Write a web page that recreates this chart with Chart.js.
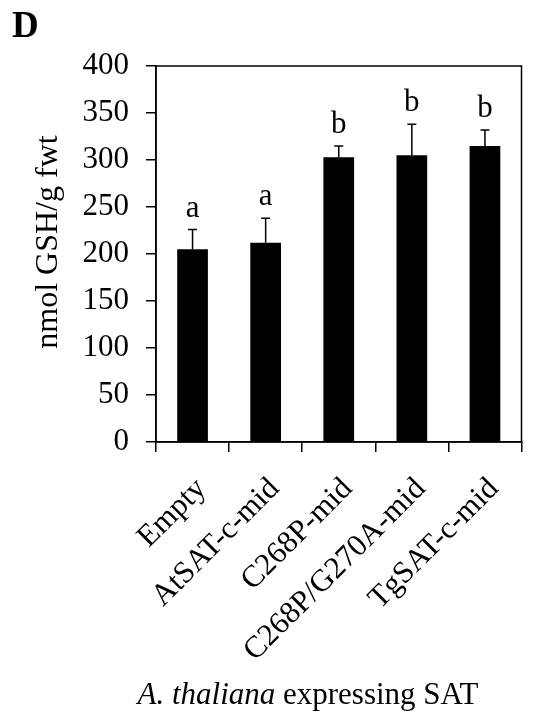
<!DOCTYPE html>
<html>
<head>
<meta charset="utf-8">
<script src="https://cdn.jsdelivr.net/npm/chart.js@4.4.1/dist/chart.umd.min.js"></script>
<style>
  html, body { margin: 0; padding: 0; background: #fff; }
  canvas { display: block; }
</style>
</head>
<body>
<canvas id="gshChart" width="540" height="714"></canvas>
<script>
// data
const categories = ['Empty', 'AtSAT-c-mid', 'C268P-mid', 'C268P/G270A-mid', 'TgSAT-c-mid'];
const gshMeans = [205, 212, 303, 305, 315];
const gshErrors = [21, 26, 12, 33, 17];
const sigLetters = ['a', 'a', 'b', 'b', 'b'];
const yMin = 0, yMax = 400, yStep = 50;

const panelLabel = 'D';
const yTitle = 'nmol GSH/g fwt';
const xTitleItalic = 'A. thaliana';
const xTitleRest = ' expressing SAT';

const serif = "'Liberation Serif', 'Times New Roman', serif";

// error bars + letters + frame + titles
const extras = {
    id: 'extras',
    afterDatasetsDraw(chart) {
        const ctx = chart.ctx;
        const meta = chart.getDatasetMeta(0);
        const y = chart.scales.y;
        ctx.save();
        ctx.strokeStyle = '#000';
        ctx.fillStyle = '#000';
        ctx.lineWidth = 1.5;
        ctx.font = '31px ' + serif;
        ctx.textAlign = 'center';
        ctx.textBaseline = 'alphabetic';
        meta.data.forEach((bar, i) => {
            const yTop = y.getPixelForValue(gshMeans[i] + gshErrors[i]);
            const yBase = y.getPixelForValue(gshMeans[i]);
            ctx.beginPath();
            ctx.moveTo(bar.x, yBase);
            ctx.lineTo(bar.x, yTop);
            ctx.moveTo(bar.x - 4.5, yTop);
            ctx.lineTo(bar.x + 4.5, yTop);
            ctx.stroke();
            ctx.fillText(sigLetters[i], bar.x, yTop - 13);
        });
        ctx.restore();
    },
    afterDraw(chart) {
        const ctx = chart.ctx;
        const a = chart.chartArea;
        ctx.save();
        ctx.strokeStyle = '#000';
        ctx.lineWidth = 1.5;
        ctx.strokeRect(a.left, a.top, a.right - a.left, a.bottom - a.top);

        ctx.fillStyle = '#000';
        // panel letter
        ctx.font = 'bold 37px ' + serif;
        ctx.textAlign = 'left';
        ctx.textBaseline = 'alphabetic';
        ctx.fillText(panelLabel, 12, 37);

        // y title
        ctx.save();
        ctx.translate(57, 242);
        ctx.rotate(-Math.PI / 2);
        ctx.font = '32px ' + serif;
        ctx.textAlign = 'center';
        ctx.fillText(yTitle, 0, 0);
        ctx.restore();

        // x title, italic species name
        ctx.font = 'italic 31px ' + serif;
        const w1 = ctx.measureText(xTitleItalic).width;
        ctx.font = '31px ' + serif;
        const w2 = ctx.measureText(xTitleRest).width;
        const x0 = 308 - (w1 + w2) / 2;
        ctx.textAlign = 'left';
        ctx.font = 'italic 31px ' + serif;
        ctx.fillText(xTitleItalic, x0, 704);
        ctx.font = '31px ' + serif;
        ctx.fillText(xTitleRest, x0 + w1, 704);
        ctx.restore();
    }
};

new Chart(document.getElementById('gshChart'), {
    type: 'bar',
    data: {
        labels: categories,
        datasets: [{
            data: gshMeans,
            backgroundColor: '#000',
            borderWidth: 0,
            barPercentage: 0.42,
            categoryPercentage: 1.0
        }]
    },
    options: {
        responsive: false,
        animation: false,
        layout: { padding: { top: 66, right: 18.5, left: 0, bottom: 0 } },
        plugins: {
            legend: { display: false },
            tooltip: { enabled: false }
        },
        scales: {
            x: {
                grid: { offset: true, drawOnChartArea: false, tickLength: 10, color: '#000', lineWidth: 1.5 },
                border: { color: '#000', width: 1.5 },
                ticks: {
                    autoSkip: false,
                    minRotation: 45,
                    maxRotation: 45,
                    padding: 19,
                    labelOffset: 9,
                    color: '#000',
                    font: { family: serif, size: 31 }
                },
                afterFit(scale) { scale.height = 714 - 442; }
            },
            y: {
                min: yMin,
                max: yMax,
                grid: { drawOnChartArea: false, tickLength: 10, color: '#000', lineWidth: 1.5 },
                border: { color: '#000', width: 1.5 },
                ticks: {
                    stepSize: yStep,
                    padding: 17,
                    color: '#000',
                    font: { family: serif, size: 31 }
                },
                afterFit(scale) { scale.width = 156; }
            }
        }
    },
    plugins: [extras]
});
</script>
</body>
</html>
